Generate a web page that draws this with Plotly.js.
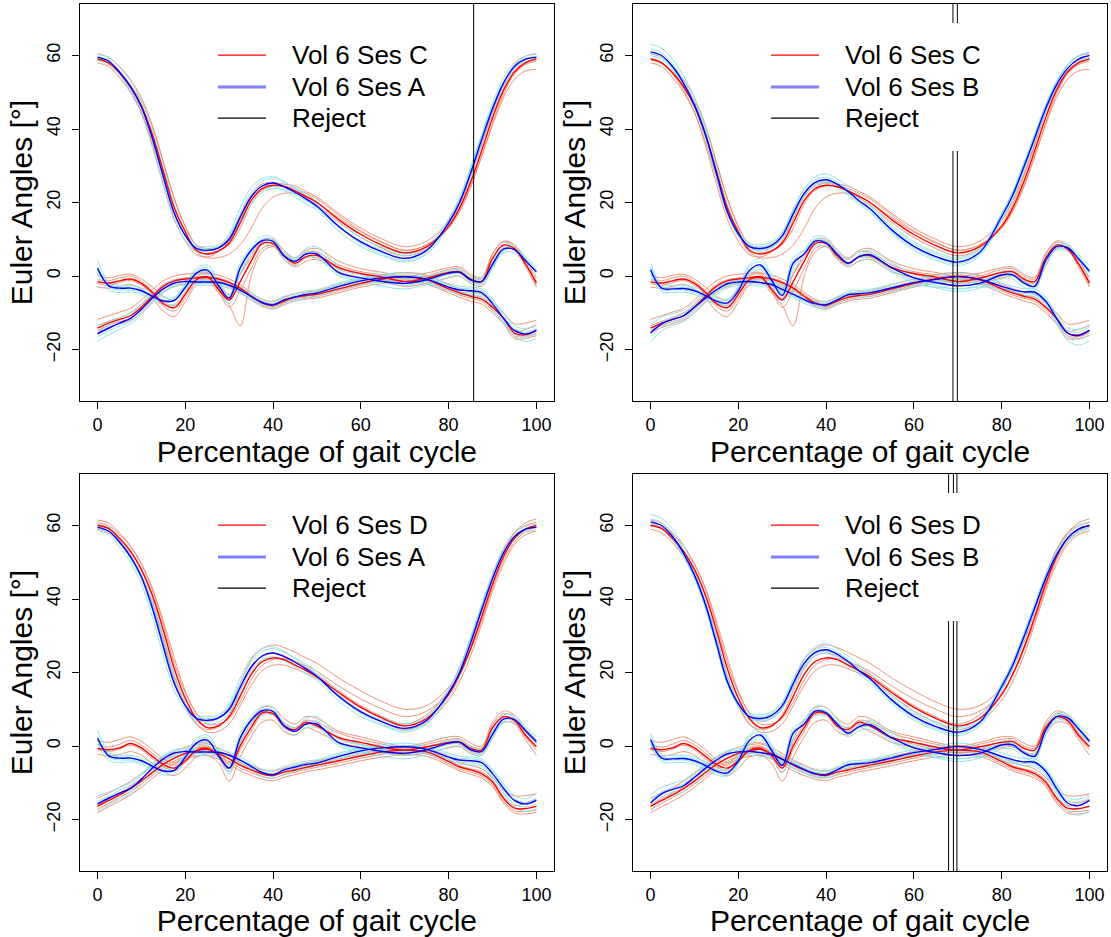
<!DOCTYPE html>
<html><head><meta charset="utf-8">
<script src="https://cdn.plot.ly/plotly-3.0.1.min.js"></script>
<style>html,body{margin:0;padding:0;background:#fff}</style>
</head><body><div id="chart" style="width:1111px;height:937px"></div>
<script>
// Percentage of gait cycle (sample positions)
const pct = [0,2.5,5,7.5,10,12.5,15,17.5,20,22.5,25,27.5,30,32.5,35,37.5,40,42.5,45,47.5,50,55,60,65,70,75,80,82.5,85,87.5,90,92.5,95,97.5,100];

// ---- Session A (mean + trials), three Euler angles ----
const A_F = [59.5,58.5,55.5,51.5,46,37.5,27,17,11,7.5,7,7.6,10,16,21.5,24.5,25.3,24.3,22.8,21,19,13.5,9.3,6.5,4.8,7,14.5,20,28,37,45.5,52.5,57,59,59.5];
const A_M = [2.1,-2.6,-3.3,-3.3,-4,-5.5,-6.8,-6.6,-3,0.8,1.6,-2.5,-6,2.2,7,9.6,9.4,5.5,4,6,6,0.9,-0.5,-1.5,-2,-1,0.8,1,-1,-1.5,3.2,7.3,7.2,4.2,1.2];
const A_L = [-15.7,-14.2,-12.8,-11.5,-9,-6,-3.5,-1.9,-1.5,-1.6,-1.6,-1.7,-2.5,-3.8,-5.5,-7.2,-7.8,-6.5,-5.7,-5,-4.6,-2.8,-1.3,-0.5,-0.2,-0.9,-3,-3.8,-4,-4.5,-7.5,-11.5,-14.8,-15.8,-14.8];
const A_F_trials = [
 [60.3,59.5,56.8,53,48,40,30,19.5,12.5,8.5,8,8.5,11,17,22.8,25.8,26.5,25.5,24,22.3,20.3,14.8,10.5,7.8,6,8,15.5,21,29.5,38.5,47,53.8,58,59.8,60.3],
 [58.7,57.5,54.2,50,44,35,24.5,15,9.8,6.5,6,6.5,9,15,20.5,23.5,24.3,23.2,21.5,19.7,17.8,12.2,8,5.5,3.8,6,14,19.8,28.3,37.5,46,52.5,56.5,58.2,58.8],
 [59.8,58.8,55.8,51.8,46.5,38.5,28,17.5,10.8,7,6.8,7.8,11.5,18.5,24,26.5,27,25.8,23.8,21.8,19.5,13.5,8.8,5.8,4.2,6.2,13.2,18.5,26.5,35.5,44,51.5,56.5,58.8,59.8],
 [59.2,58.2,55.2,51,45.5,37,26.5,16.8,11.2,8,7.5,8,9.5,14,19.5,22.8,23.8,23.5,22.2,20.5,18.5,13.2,9.5,7,5.5,7.8,15.5,21.5,29.5,38,46,52.8,57.2,59.2,59.8]
];
const A_M_trials = [
 [4.3,-1.5,-2.5,-2.5,-3.2,-4.5,-5.8,-5.8,-2,2,3,-1,-5,3.5,8,10.8,10.5,6.5,5,7.5,8,2.5,0.5,-0.8,-1.3,-0.3,1.5,1.8,0,-0.5,4.5,8.5,8.3,5.3,2.5],
 [0.5,-3.8,-4.5,-4.3,-5,-6.5,-7.8,-7.6,-4,-0.3,0.5,-3.5,-7.5,0.5,5.8,8.5,8.5,4.5,3,5,5,0,-1.5,-2.8,-3.5,-2.3,-0.3,0,-2,-2.5,2,6.3,6.3,3.2,0],
 [2.5,-2,-3,-3,-3.8,-5.2,-6.5,-6,-2.2,1.5,2.2,-1.5,-6.8,1.5,6.5,9.2,9.5,6,4.5,6.2,5.8,0.5,-1,-2,-2.5,-1.5,0.5,0.8,-1.3,-2,2.5,6.8,7.5,4.8,1.8],
 [1.5,-3,-3.8,-3.8,-4.5,-6,-7,-6.8,-3.5,0.2,1.2,-2.5,-5.5,2.5,7.3,10,9.8,5.8,4.2,6.3,6.8,1.8,0.3,-0.8,-1.5,-0.5,1.2,1.5,-0.5,-1,3.8,7.8,7.5,4,0.8]
];
const A_L_trials = [
 [-13.5,-12.5,-11.3,-10,-7.5,-4.8,-2.5,-1,-0.6,-0.7,-0.8,-0.9,-1.7,-3,-4.6,-6.3,-6.8,-5.5,-4.8,-4.1,-3.7,-1.9,-0.4,0.5,0.8,0,-2,-2.8,-3,-3.5,-6.3,-10.2,-13.5,-14.3,-13],
 [-17.8,-16,-14.5,-13,-10.5,-7.3,-4.6,-2.9,-2.5,-2.5,-2.5,-2.6,-3.4,-4.8,-6.5,-8.2,-8.9,-7.6,-6.8,-6,-5.6,-3.8,-2.3,-1.5,-1.3,-2,-4.1,-4.9,-5.1,-5.7,-9,-13,-16.5,-17.8,-17],
 [-15,-13.6,-12,-10.6,-8,-5.2,-2.8,-1.4,-1,-1.2,-1.3,-1.5,-2.3,-3.6,-5.2,-6.9,-7.6,-6.3,-5.3,-4.6,-4.2,-2.3,-0.8,0,0.2,-0.5,-2.5,-3.3,-3.5,-4,-6.8,-10.8,-14.3,-15.3,-14.2],
 [-16.5,-15,-13.6,-12.3,-9.8,-6.8,-4.2,-2.5,-2,-2,-2,-2.1,-2.8,-4.2,-6,-7.6,-8.2,-7,-6.2,-5.5,-5.1,-3.3,-1.8,-1.1,-0.8,-1.5,-3.6,-4.4,-4.6,-5.2,-8.3,-12.5,-15.8,-16.5,-15.8]
];

// ---- Session B ----
const B_F = [61,60,57,52.5,46.5,38.5,28,17.5,11.5,8,7.5,8.3,11,17,22.5,25.5,26.2,25,23,20.5,18.3,12.5,8.1,5.3,3.8,6.5,16.2,22,29.5,37.5,45.5,52,56.5,59,60];
const B_M = [1.7,-3.3,-3.5,-3.4,-4,-5.3,-6.8,-7.3,-4,1.5,3,-1,-5.3,3.5,6,9.5,9,6,3.5,5.3,5.8,2.2,-0.5,-1.8,-2.6,-2,0.3,0.3,-1.8,-2.8,4.2,8,7.7,4.7,1.3];
const B_L = [-15.5,-13,-11.8,-10.8,-8.5,-6,-3.8,-2.1,-1.6,-1.5,-1.8,-2.3,-3.6,-5,-6.4,-7.5,-7.8,-6.5,-5.1,-4.8,-4.5,-3.2,-1.8,-0.9,-0.1,-0.9,-2.8,-3.7,-4.3,-4.4,-6.8,-11.5,-15.5,-16.2,-14.8];
const B_F_trials = [
 [63,62,59,54.5,48.5,40.5,30,19.5,12.8,9,8.5,9.3,12,18,23.8,27,27.8,26.5,24.5,22,19.7,13.8,9.3,6.5,5,7.5,17,22.8,30.5,38.5,46.5,53,57.5,60,61],
 [60,59,56,51.5,45.5,37.5,27,16.8,10.8,7.3,6.8,7.5,10,16,21.5,24.5,25.2,24,22,19.5,17.3,11.5,7,4.3,2.8,5.5,15.2,21,28.5,36.5,44.5,51,55.5,58,59],
 [61.8,60.8,57.8,53.3,47.3,39.3,28.8,18.3,12,8.6,8,8.8,11.8,18.2,23.5,26.2,26.8,25.6,23.6,21.2,19,13.2,8.8,6,4.5,7.2,17,23,30.5,38.5,46.5,52.8,57.2,59.8,60.8],
 [60.5,59.5,56.5,52,46,38,27.5,17,11,7.6,7.2,7.8,10.3,16,21.8,25,25.8,24.5,22.5,20,17.8,12,7.6,4.8,3.3,6,15.5,21.2,28.8,36.8,44.8,51.3,55.8,58.5,59.5]
];
const B_M_trials = [
 [3.5,-2.2,-2.5,-2.5,-3,-4.3,-5.8,-6.3,-2.8,3,4.8,0.5,-4,5,7.2,10.8,10.5,7.2,4.8,6.5,7,3.5,0.8,-0.5,-1.3,-0.8,1.3,1.5,-0.5,-1.5,5.5,9,8.7,5.8,2.8],
 [0.2,-4.3,-4.5,-4.4,-5,-6.3,-7.8,-8.3,-5,0.2,1.8,-2.3,-7.5,1.5,5,8.3,8,4.8,2.5,4.2,4.5,1,-1.8,-3.2,-4.2,-3.3,-0.8,-0.8,-3,-3.8,3,7,6.7,3.6,0],
 [2.5,-2.8,-3.2,-3,-3.6,-5,-6.5,-6.5,-3.2,2.5,3.8,-0.2,-6,2.5,6.2,10,9.5,6.5,3.8,5,5.2,1.5,-1.2,-2.5,-3.5,-2.6,0,0,-2.2,-3.3,3.5,7.5,7.2,4.3,0.8],
 [1,-3.8,-3.8,-3.8,-4.5,-5.8,-7.2,-7.8,-4.8,0.8,2.5,-1.5,-4.5,4,7,9.8,9.3,5.5,3.2,5.8,6.3,2.8,0,-1.2,-2,-1.5,0.8,0.8,-1.2,-2.2,4.8,8.5,8.2,5.2,1.8]
];
const B_L_trials = [
 [-13.3,-11.2,-10.2,-9.3,-7.2,-4.8,-2.8,-1.2,-0.7,-0.6,-0.9,-1.4,-2.7,-4.1,-5.5,-6.6,-6.9,-5.6,-4.2,-3.9,-3.6,-2.3,-0.9,0,0.8,0,-1.9,-2.8,-3.4,-3.5,-5.8,-10.2,-14,-14.5,-13.2],
 [-17.8,-15,-13.5,-12.4,-10,-7.3,-5,-3.2,-2.6,-2.5,-2.8,-3.3,-4.6,-6,-7.4,-8.5,-8.8,-7.5,-6.1,-5.8,-5.5,-4.2,-2.8,-2,-1.3,-2,-3.8,-4.7,-5.3,-5.5,-8,-13,-17.5,-18.8,-17.5],
 [-14.8,-12.5,-11.3,-10.3,-8,-5.5,-3.4,-1.7,-1.2,-1.1,-1.4,-1.9,-3.2,-4.6,-6,-7.1,-7.4,-6.1,-4.7,-4.4,-4.1,-2.8,-2.5,-3,-3.5,-3,-3.3,-3.9,-4.2,-4.2,-6.3,-10.8,-14.8,-15.3,-13.8],
 [-16.5,-13.8,-12.5,-11.5,-9.2,-6.6,-4.3,-2.6,-2.1,-2,-2.3,-2.8,-4.1,-5.5,-6.9,-8,-8.3,-7,-5.6,-5.3,-5,-3.7,-2.2,-1.3,-0.6,-1.4,-3.3,-4.2,-4.8,-5,-7.5,-12.2,-16.3,-17.2,-16]
];

// ---- Session C ----
const C_F = [59,58,55.3,51.5,46.3,38.5,28.5,18.5,12,7,6,6.8,9,14.5,20.5,23.8,24.7,24.3,23.2,21.7,20,15.3,11.3,8.3,6.3,8,13.5,18.5,25.5,34,43,50.5,55.5,58,59];
const C_M = [-1.5,-1.9,-1.3,-0.8,-2,-4.5,-7.5,-8.6,-5,-1,-0.2,-3.5,-6.5,-1.5,4,8.8,8.8,5.5,3.5,5.3,5.6,2.3,0.7,-0.3,-1.5,-0.6,1,1.2,-0.8,-1.5,4.8,8.4,7.4,3.3,-1.9];
const C_L = [-14.2,-12.8,-11.8,-10.8,-8.5,-5.5,-2.8,-1.3,-0.8,-0.5,-0.4,-0.8,-1.8,-3.3,-5.5,-7.3,-8,-6.8,-5.8,-5.3,-5,-3.5,-2,-0.8,-0.2,-1,-3.5,-4.6,-5.5,-6.3,-8.5,-11.5,-15.5,-16,-14.7];
const C_F_trials = [
 [60.5,59.5,57,53.5,48.5,41,31,21,13.5,8.5,7.5,8,10.5,16.5,22,25,25.5,25,24.5,23,21.5,17,13,10,8,9.5,15,20.5,27.5,36,45,52.5,57.5,59.8,60.5],
 [58,57,54,50,44.5,36.5,26.5,17,11,6.5,5,5,6,8.5,13,18.5,21.5,22.5,22.5,21.5,20,15.8,12,9,7,8.5,13.5,18,24.5,32.5,41,48.5,53.5,55.8,56.2],
 [59.3,58.2,55,50.5,44.5,35.5,25,15.5,9.5,5.8,5.2,6.5,9.5,15.5,21.5,24.5,25.2,24.5,23,21.2,19.3,14.5,10.5,7.5,5.5,7.5,14,19.5,27,35.5,44.5,51.5,56,58.3,59.2],
 [58.8,58,55.5,52,47.5,40.5,31,21,13.5,8.3,6.5,6.8,8.5,13,19.5,23.3,24.5,24.5,23.8,22.5,21,16.5,12.3,9.2,7,8.5,13,17.5,24,32.5,41.5,49.5,55,57.5,58.5]
];
const C_M_trials = [
 [0.3,-0.5,0.2,0.5,-0.8,-3,-5.5,-6.5,-3.5,0.5,1,-2,-5,0.5,6,10,10,7,5,7,7.5,4,2,1,0,0.8,2.3,2.5,0.5,-0.3,6,9.5,8.5,4.5,-0.5],
 [-3,-3.3,-2.8,-2.3,-3.5,-6,-9.5,-11,-7,-2.5,-1.5,-4.5,-8,-13.5,0,6.5,8,4.5,2.5,4,4.5,1.2,-0.5,-1.5,-2.8,-2,-0.5,0,-2,-2.8,2.5,7.5,7,2.5,-3],
 [-2,-2.5,-1.8,-1.2,-2.5,-5,-8.2,-9.5,-6,-1.8,-0.5,-4,-8.5,-4,2,7.5,8.2,5,3,5,5,2,0.5,-0.8,-2,-1.3,0.5,0.8,-1.5,-2,3.5,7.5,7.8,3.8,-1.5],
 [-1,-1.3,-0.5,0,-1.5,-4,-7,-8,-4.5,0,0.5,-3,-6,0.5,5,9.3,9.5,6.5,4.5,6.5,6.5,3,1.2,0.3,-0.8,0,1.8,2,0,-0.8,6,9.2,8,3.5,-2.5]
];
const C_L_trials = [
 [-11.8,-10.8,-9.8,-8.8,-6.5,-3.8,-1.3,0,0.5,0.8,0.8,0.3,-0.8,-2.3,-4.5,-6.3,-7,-5.8,-4.8,-4.3,-4,-2.3,-0.8,0.3,1,0.2,-2.3,-3.4,-4.3,-5,-7,-10,-13,-12.8,-12],
 [-15.3,-14,-13,-12,-10,-7,-4.3,-2.8,-2,-1.8,-1.7,-2,-3,-4.5,-6.5,-8.3,-9,-7.8,-6.8,-6.3,-6,-4.5,-3,-2,-1.5,-2.2,-4.6,-5.8,-6.8,-7.6,-10,-13,-17,-17,-16.2],
 [-13.5,-12.3,-11.3,-10,-7.8,-4.8,-2.3,-1,-0.5,-0.2,-0.1,-0.5,-1.5,-3,-5,-6.8,-7.6,-6.5,-5.5,-5,-4.7,-3,-1.5,-0.4,0.3,-0.5,-3,-4.2,-5.2,-5.8,-8,-11.5,-15,-14.5,-13.5],
 [-14.8,-13.4,-12.4,-11.5,-9.3,-6.3,-3.5,-1.9,-1.3,-1.1,-1,-1.3,-2.3,-3.8,-6,-7.8,-8.5,-7.3,-6.3,-5.8,-5.5,-4,-2.5,-1.3,-0.8,-1.6,-4,-5.2,-6,-6.9,-9.3,-12.5,-16.3,-16.5,-15.5]
];

// ---- Session D ----
const D_F = [60,59.2,56.5,53,48,41,31.5,21,13,7.5,5,5.5,8,13.5,19.5,23,24,23.5,22,20.5,18.8,14.5,10.5,7.5,5.5,7.5,14,19.5,26.5,35,44,51.5,56.5,59,60];
const D_M = [-0.6,-1,-0.5,0.7,-0.5,-2.8,-5,-6,-4,-1.2,-0.6,-2.5,-6,0,5,9,8.8,5.5,4.5,6.5,5.5,2.3,1,-0.3,-1.1,-0.2,1,1.2,-0.6,-1.1,5,8,7,3,-0.2];
const D_L = [-16.4,-14.8,-13.3,-11.6,-9.5,-7.2,-5,-3.3,-2,-1.3,-0.9,-2,-3.5,-5.2,-6.5,-7.6,-8,-7.1,-6.5,-5.8,-5.2,-4,-2.7,-1.6,-1.1,-1.6,-4.2,-5.7,-6.5,-7.5,-9.8,-14.2,-16.9,-17,-16.4];
const D_F_trials = [
 [61.5,60.7,58,54.5,49.5,42.5,33,22.5,14.5,9,6.8,7.5,10.5,17,23.5,26.5,27.5,26.8,25.5,24,22.5,18.5,15,12,10,11,16,21,28,36.5,45.5,53,58,60.7,61.8],
 [59,58,55.3,51.5,46.5,39,29.5,19,11.5,6,3.8,4,6,11,16.5,20.5,22,22,21,19.8,18.3,13.8,9.5,6.5,4.5,6.5,12.5,17.5,24.5,33,42,49.5,54.8,57.5,58.5],
 [60.3,59.2,56,52,46.3,38.5,28.5,18,10.8,6,4.5,5.2,8.5,15,21,24.5,25.3,24.5,23,21.3,19.5,15,11,8,6,8.5,15.5,21.5,29,37.5,46.5,53.5,58,60,60.8],
 [60.7,60,57.5,54.3,49.5,43,34,24,15,9,6,6,7.5,12,18,22,23.5,23.8,23,21.8,20.3,16.3,12.8,10,8,9.5,14.5,19.3,26,34,43,50.5,55.5,58.3,59.5]
];
const D_M_trials = [
 [1.5,1,1.8,2.5,1.2,-1,-3.5,-4.5,-2.5,0.5,1,-1,-4.5,2,7,10.5,10.5,7.5,6,8,7.5,4,2.5,1,0,1,2.5,2.5,0.8,0,6.5,9.5,8.5,4.5,1.5],
 [-2.2,-2.7,-2.3,-1.5,-2.5,-4.8,-7,-8,-6,-3,-2.5,-4.5,-9.5,-3,2.5,6.5,7,4,3,5,4,1,-0.3,-1.5,-2.5,-1.8,-0.5,-0.2,-2,-2.5,3,6.5,6,1.8,-2.5],
 [-1,-1.5,-0.8,0.2,-1,-3.5,-5.5,-6.8,-4.5,-1.5,-1,-3,-7,-1,4,8.5,8.5,5,4,6,5.3,2,0.5,-1,-1.8,-1,0.5,0.5,-1.5,-2,4,7.5,6.5,2.5,-1],
 [0.5,-0.3,0.5,1.5,0.3,-2,-4.2,-5.2,-3.2,-0.5,0,-2,-5,1,6,9.5,9.3,6.2,5,7,6.5,3.5,1.8,0.5,-0.5,0.5,1.8,2,0,-0.5,5.8,8.8,7.8,3.8,0.8]
];
const D_L_trials = [
 [-14.2,-12.8,-11.3,-9.6,-7.5,-5.2,-3,-1.5,-0.3,0.3,0.6,-0.5,-2,-3.8,-5.2,-6.4,-6.8,-6,-5.3,-4.6,-4,-2.8,-1.5,-0.5,0,-0.5,-3,-4.5,-5.3,-6.2,-8.5,-12,-13.5,-13.5,-13],
 [-18.2,-16.5,-15,-13.3,-11.2,-8.8,-6.5,-4.8,-3.5,-2.8,-2.5,-3.5,-5,-6.7,-8,-9,-9.4,-8.5,-7.8,-7,-6.5,-5.3,-4,-3,-2.4,-2.8,-5.3,-6.8,-7.7,-8.7,-11,-15.5,-18.2,-18.5,-18],
 [-16,-14.3,-12.8,-11,-8.8,-6.5,-4.2,-2.5,-1.2,-0.6,-0.3,-1.3,-2.8,-4.5,-6,-7.2,-7.5,-6.6,-6,-5.3,-4.7,-3.5,-2.2,-1.1,-0.6,-1.1,-3.7,-5.3,-6.2,-7,-9.3,-13.8,-16.2,-15.5,-14.5],
 [-17.2,-15.6,-14,-12.4,-10.3,-8,-5.8,-4.1,-2.8,-2.1,-1.7,-2.8,-4.3,-6,-7.2,-8.3,-8.7,-7.8,-7.1,-6.4,-5.8,-4.6,-3.3,-2.2,-1.7,-2.2,-4.8,-6.3,-7.1,-8.1,-10.5,-15,-17.6,-17.8,-17.4]
];

// Rejected gait-cycle positions per panel
const reject1 = [85.7];
const reject2 = [68.9, 69.9];
const reject3 = [];
const reject4 = [67.9, 69.0, 69.8];

// Legend labels
const labelA = "Vol 6 Ses A", labelB = "Vol 6 Ses B", labelC = "Vol 6 Ses C", labelD = "Vol 6 Ses D";
const labelReject = "Reject";

// Axis text
const xTitle = "Percentage of gait cycle";
const yTitle = "Euler Angles [°]";
const xTicks = [0,20,40,60,80,100];
const yTicks = [-20,0,20,40,60];
const X_RANGE = [-4,104];
const Y_RANGE = [-34,74];

const sessions = {
  A:{mean:[A_F,A_M,A_L], trials:[A_F_trials,A_M_trials,A_L_trials], label:labelA},
  B:{mean:[B_F,B_M,B_L], trials:[B_F_trials,B_M_trials,B_L_trials], label:labelB},
  C:{mean:[C_F,C_M,C_L], trials:[C_F_trials,C_M_trials,C_L_trials], label:labelC},
  D:{mean:[D_F,D_M,D_L], trials:[D_F_trials,D_M_trials,D_L_trials], label:labelD}
};
const panels = [
  {red:'C', blue:'A', reject:reject1},
  {red:'C', blue:'B', reject:reject2},
  {red:'D', blue:'A', reject:reject3},
  {red:'D', blue:'B', reject:reject4}
];

const FONT = "Liberation Sans, Arial, Helvetica, sans-serif";
const ORANGE = "rgba(236,130,100,0.85)";
const CYAN = "rgba(135,225,235,0.9)";
const traces = [];
panels.forEach((p, i) => {
  const n = i === 0 ? '' : String(i+1);
  const base = {xaxis:'x'+n, yaxis:'y'+n, mode:'lines', hoverinfo:'skip', showlegend:false};
  const red = sessions[p.red], blue = sessions[p.blue];
  for (let a = 0; a < 3; a++) {
    red.trials[a].forEach(t => traces.push(Object.assign({}, base, {x:pct, y:t, line:{color:ORANGE, width:1, shape:'spline'}})));
  }
  for (let a = 0; a < 3; a++) {
    blue.trials[a].forEach(t => traces.push(Object.assign({}, base, {x:pct, y:t, line:{color:CYAN, width:1, shape:'spline'}})));
  }
  for (let a = 0; a < 3; a++) {
    traces.push(Object.assign({}, base, {x:pct, y:red.mean[a], name:red.label, line:{color:'#ff0000', width:1.4, shape:'spline'}}));
  }
  for (let a = 0; a < 3; a++) {
    traces.push(Object.assign({}, base, {x:pct, y:blue.mean[a], name:blue.label, line:{color:'#0000ff', width:1.4, shape:'spline'}}));
  }
  p.reject.forEach(r => {
    traces.push(Object.assign({}, base, {x:[r,r], y:Y_RANGE, name:labelReject, line:{color:'#000', width:1}}));
  });
});

const xDom = [[0.0720,0.4986],[0.5698,0.9964]];
const yDom = [[0.5720,0.9957],[0.0704,0.4941]];
const layout = {
  width:1111, height:937, margin:{l:0,r:0,t:0,b:0},
  paper_bgcolor:'#fff', plot_bgcolor:'#fff', showlegend:false,
  font:{family:FONT, color:'#000'},
  shapes:[], annotations:[]
};
// legend rows (fraction of panel height from bottom), sample and text positions (fraction of panel width)
const legRowsY = [0.8715, 0.7909, 0.7128];
const legSample = [0.2911, 0.3924], legTextX = 0.443;
for (let i = 0; i < 4; i++) {
  const n = i === 0 ? '' : String(i+1);
  const col = i % 2, row = Math.floor(i/2);
  const xr = 'x'+n+' domain', yr = 'y'+n+' domain';
  layout['xaxis'+n] = {
    domain:xDom[col], anchor:'y'+n, range:X_RANGE, tickvals:xTicks, ticks:'outside', ticklen:7, tickwidth:1, tickcolor:'#000',
    showline:true, mirror:true, linecolor:'#000', linewidth:1, showgrid:false, zeroline:false,
    tickfont:{size:18, family:FONT, color:'#000'},
    title:{text:xTitle, font:{size:30, family:FONT, color:'#000'}, standoff:0}
  };
  layout['yaxis'+n] = {
    domain:yDom[row], anchor:'x'+n, range:Y_RANGE, tickvals:yTicks, ticks:'outside', ticklen:7, tickwidth:1, tickcolor:'#000',
    showline:true, mirror:true, linecolor:'#000', linewidth:1, showgrid:false, zeroline:false, tickangle:-90,
    ticklabelstandoff:5,
    tickfont:{size:18, family:FONT, color:'#000'},
    title:{text:yTitle, font:{size:30, family:FONT, color:'#000'}, standoff:2}
  };
  // legend background (covers reject lines like the original)
  layout.shapes.push({type:'rect', xref:xr, yref:yr, x0:0.253, x1:0.76, y0:0.630, y1:0.952,
    fillcolor:'#fff', line:{width:0}, layer:'above'});
  const p = panels[i];
  const entries = [
    {text:sessions[p.red].label, color:'#ff0000', width:1.2},
    {text:sessions[p.blue].label, color:'#8080ff', width:3},
    {text:labelReject, color:'#000000', width:1.2}
  ];
  entries.forEach((e, k) => {
    layout.shapes.push({type:'line', xref:xr, yref:yr, x0:legSample[0], x1:legSample[1], y0:legRowsY[k], y1:legRowsY[k],
      line:{color:e.color, width:e.width}, layer:'above'});
    layout.annotations.push({xref:xr, yref:yr, x:legTextX, y:legRowsY[k], xanchor:'left', yanchor:'middle',
      text:e.text, showarrow:false, font:{size:26, family:FONT, color:'#000'}});
  });
}
Plotly.newPlot('chart', traces, layout, {staticPlot:true, displayModeBar:false});
</script>
</body></html>
